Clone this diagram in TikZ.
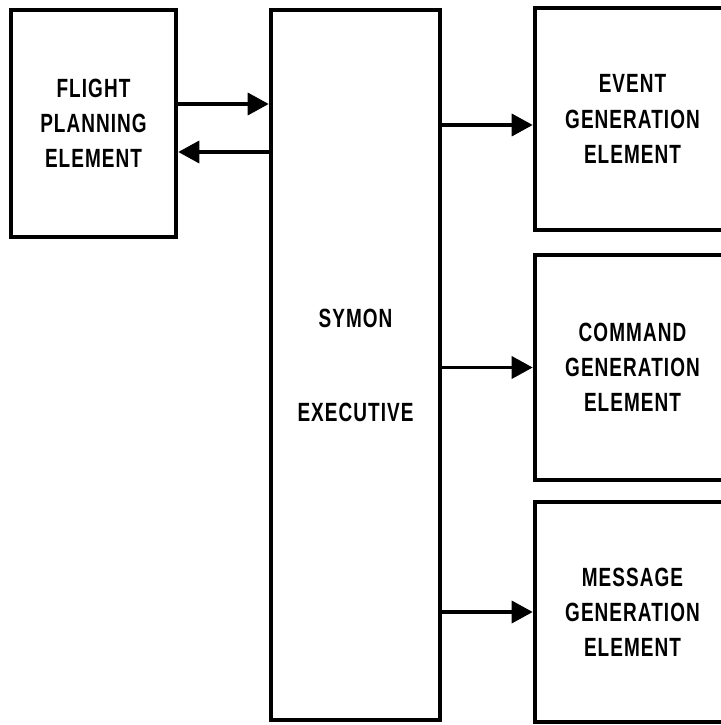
\documentclass[tikz,border=0pt]{standalone}
\usepackage{fontspec}
\setmainfont{Liberation Sans}[FakeStretch=0.72,LetterSpace=4]
\usetikzlibrary{arrows.meta}

\begin{document}
\begin{tikzpicture}[>={Triangle[length=0.42cm,width=0.44cm]},
  font=\bfseries\fontsize{15}{20}\selectfont,
  block/.style={draw, line width=2.6pt, align=center, inner sep=0pt},
  flow/.style={->, line width=2pt}]
  \useasboundingbox (0,0) rectangle (14.4,-14.5);

  % --- izquierda: planificacion de vuelo ---
  \node[block, minimum width=3.3cm, minimum height=4.54cm] (flight) at (1.87,-2.47)
    {FLIGHT\\PLANNING\\ELEMENT};

  % --- centro: ejecutivo ---
  \node[block, minimum width=3.38cm, minimum height=14.2cm] (symon) at (7.11,-7.3)
    {SYMON\\[1.18cm]EXECUTIVE};

  % --- derecha: elementos de generacion (borde derecho fuera de la hoja) ---
  \node[block, minimum width=3.9cm, minimum height=4.44cm] (event) at (12.65,-2.38)
    {EVENT\\GENERATION\\ELEMENT};
  \node[block, minimum width=3.9cm, minimum height=4.5cm] (command) at (12.65,-7.35)
    {COMMAND\\GENERATION\\ELEMENT};
  \node[block, minimum width=3.9cm, minimum height=4.4cm] (message) at (12.65,-12.24)
    {MESSAGE\\GENERATION\\ELEMENT};

  % --- flechas ---
  \draw[flow] (flight.east |- 0,-2.08) -- (symon.west |- 0,-2.08);
  \draw[flow] (symon.west |- 0,-3.04) -- (flight.east |- 0,-3.04);
  \draw[flow] (symon.east |- 0,-2.5) -- (event.west |- 0,-2.5);
  \draw[flow] (symon.east |- command.west) -- (command.west);
  \draw[flow] (symon.east |- message.west) -- (message.west);
\end{tikzpicture}
\end{document}
